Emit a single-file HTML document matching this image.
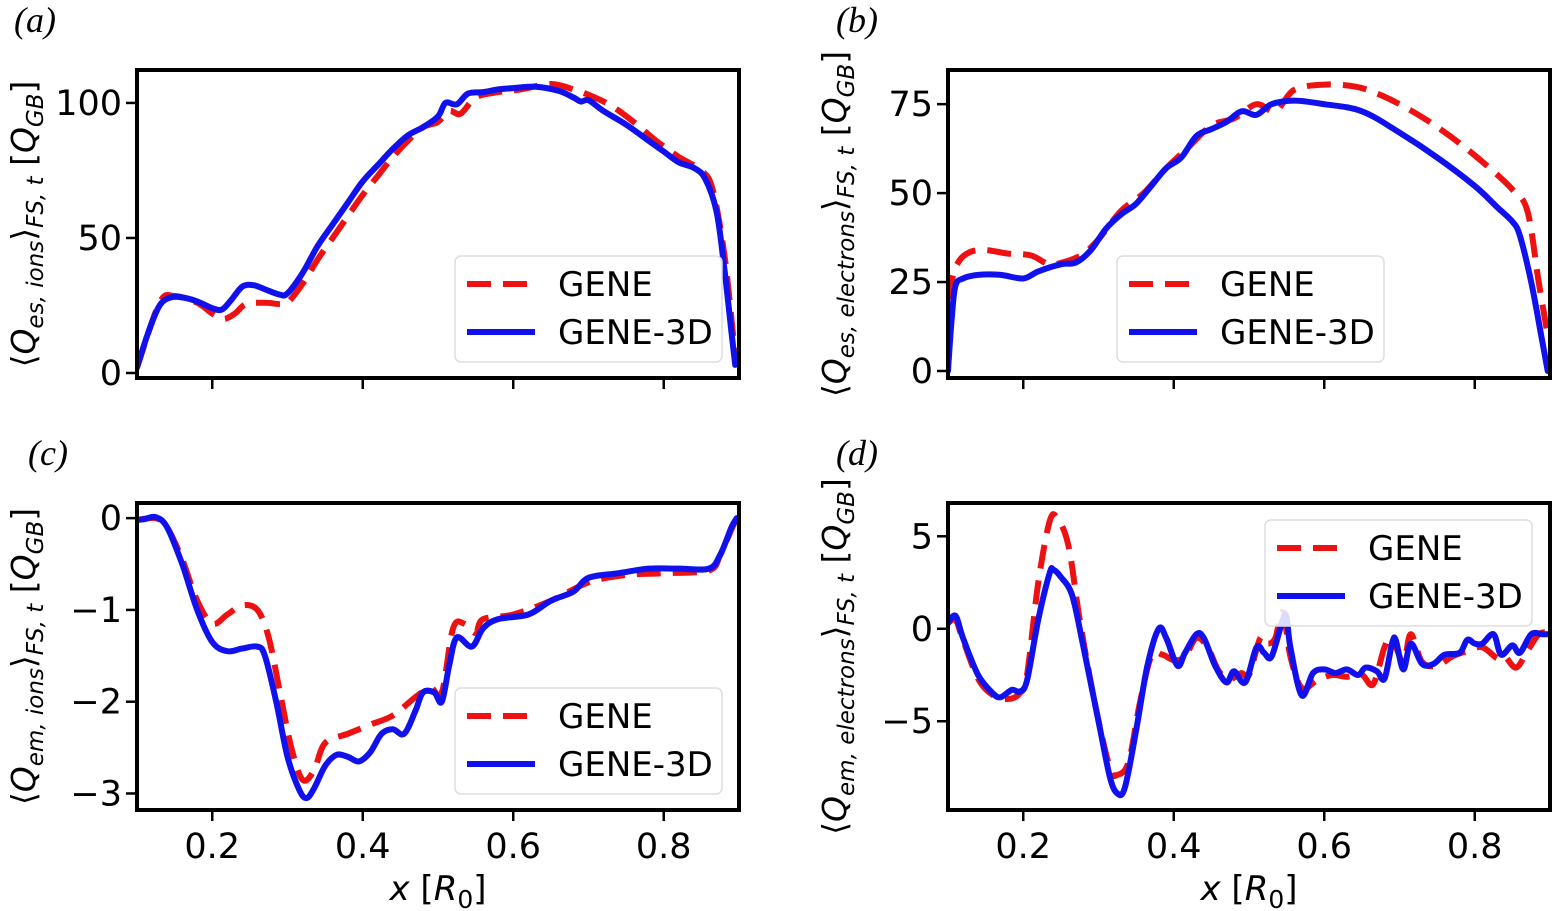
<!DOCTYPE html>
<html><head><meta charset="utf-8"><style>
html,body{margin:0;padding:0;background:#fff;}
svg{display:block;}
.tick{font-family:"DejaVu Sans","Liberation Sans",sans-serif;font-size:35px;fill:#000;}
.lab{font-family:"DejaVu Sans","Liberation Sans",sans-serif;font-size:34px;fill:#000;}
.ylab{font-family:"DejaVu Sans","Liberation Sans",sans-serif;font-size:33px;fill:#000;}
.pl{font-family:"Liberation Serif",serif;font-style:italic;font-size:36px;}
</style></head><body>
<svg id="fig" width="1555" height="911" viewBox="0 0 1555 911" xmlns="http://www.w3.org/2000/svg"></svg>
<script>
// Panel (a) data
const aBlueX=[0.10,0.115,0.13,0.145,0.16,0.18,0.20,0.213,0.225,0.24,0.255,0.27,0.29,0.30,0.32,0.34,0.36,0.38,0.40,0.42,0.44,0.46,0.48,0.50,0.51,0.525,0.54,0.56,0.58,0.60,0.63,0.66,0.68,0.69,0.70,0.72,0.75,0.78,0.80,0.82,0.84,0.855,0.87,0.88,0.89,0.895];
const aBlueY=[2,15,25,28,28,26.5,24,23.5,27,32,32.5,31,29,29.5,37,47,55,63,71,77,83,88,91,95,100,99.5,103.5,104,105,105.5,106,104.5,102,100.5,101,97,92,86,82,78,76,72,60,40,15,3];
const aRedX=[0.10,0.13,0.15,0.18,0.20,0.215,0.23,0.245,0.27,0.29,0.30,0.32,0.34,0.36,0.38,0.40,0.42,0.44,0.46,0.48,0.50,0.515,0.53,0.55,0.58,0.61,0.65,0.68,0.70,0.73,0.76,0.79,0.82,0.85,0.865,0.88,0.89,0.895];
const aRedY=[2,26,28.5,26,22,20,22,25.5,26,25.5,26,33,42,50,58,66,73,80,86,91,93,97,96,102,104,105,107,105,103,99,93,86,80,75,68,45,20,5];
// Panel (b) data
const bBlueX=[0.10,0.105,0.11,0.12,0.14,0.17,0.20,0.22,0.25,0.27,0.29,0.31,0.33,0.35,0.37,0.39,0.41,0.43,0.45,0.47,0.49,0.51,0.53,0.56,0.60,0.65,0.70,0.75,0.80,0.83,0.85,0.86,0.875,0.89,0.897];
const bBlueY=[0,15,24,26,27,27,26,28,30,30.5,34,40,44,47,52,57,60,66,68,70,73,72,75,76,75,73,67,60,52,46,42,38,25,8,0];
const bRedX=[0.10,0.105,0.115,0.13,0.15,0.18,0.21,0.235,0.26,0.28,0.30,0.33,0.36,0.39,0.42,0.45,0.48,0.51,0.535,0.56,0.60,0.64,0.67,0.70,0.74,0.78,0.82,0.85,0.87,0.885,0.897];
const bRedY=[10,25,31,33.5,34,33,32.5,30,31,33,37,45,50,57,63,69,71,75,73,79,80.5,80,78,75,70,64,57,51,45,25,10];
// Panel (c) data
const cBlueX=[0.10,0.11,0.125,0.14,0.16,0.18,0.20,0.22,0.24,0.26,0.27,0.285,0.30,0.315,0.325,0.335,0.35,0.365,0.38,0.395,0.41,0.425,0.44,0.455,0.47,0.48,0.495,0.505,0.515,0.525,0.545,0.56,0.58,0.62,0.65,0.68,0.70,0.74,0.78,0.82,0.86,0.875,0.89,0.897];
const cBlueY=[-0.02,-0.01,0.01,-0.1,-0.5,-1.0,-1.35,-1.45,-1.42,-1.4,-1.5,-2.0,-2.6,-2.95,-3.05,-2.95,-2.7,-2.58,-2.6,-2.65,-2.55,-2.35,-2.3,-2.35,-2.1,-1.9,-1.9,-2.0,-1.6,-1.3,-1.4,-1.2,-1.1,-1.05,-0.9,-0.8,-0.65,-0.6,-0.55,-0.55,-0.55,-0.4,-0.1,0];
const cRedX=[0.10,0.125,0.14,0.16,0.18,0.20,0.22,0.24,0.26,0.275,0.29,0.305,0.32,0.335,0.35,0.38,0.41,0.44,0.47,0.49,0.505,0.52,0.535,0.55,0.56,0.60,0.65,0.70,0.75,0.80,0.86,0.875,0.89,0.897];
const cRedY=[-0.02,0,-0.1,-0.45,-0.9,-1.15,-1.05,-0.95,-1.0,-1.3,-1.9,-2.5,-2.85,-2.75,-2.45,-2.35,-2.25,-2.15,-1.95,-1.85,-1.9,-1.2,-1.15,-1.25,-1.1,-1.05,-0.9,-0.7,-0.62,-0.6,-0.57,-0.4,-0.12,0];
// Panel (d) data
const dBlueX=[0.10,0.11,0.12,0.14,0.16,0.17,0.185,0.195,0.205,0.22,0.235,0.24,0.25,0.265,0.28,0.30,0.315,0.325,0.335,0.35,0.365,0.38,0.39,0.405,0.415,0.43,0.44,0.455,0.47,0.48,0.495,0.51,0.52,0.53,0.545,0.55,0.555,0.57,0.585,0.60,0.615,0.63,0.645,0.655,0.67,0.68,0.69,0.695,0.705,0.715,0.73,0.745,0.76,0.78,0.79,0.80,0.81,0.825,0.835,0.85,0.86,0.875,0.89,0.897];
const dBlueY=[0.3,0.7,-0.5,-2.5,-3.5,-3.7,-3.3,-3.4,-2.8,0.5,3.0,3.2,2.8,1.8,-1,-5,-8,-8.9,-8.6,-5.5,-2,0,-0.5,-2,-1.3,-0.3,-0.5,-2,-2.9,-2.3,-2.9,-1,-1.3,-1.5,0.5,0.6,-1,-3.6,-2.4,-2.2,-2.4,-2.2,-2.5,-2.1,-2.3,-2.7,-0.8,-0.6,-2.2,-0.8,-1.9,-1.9,-1.4,-1.3,-0.6,-0.8,-0.8,-0.3,-1.4,-0.9,-1.3,-0.3,-0.3,-0.3];
const dRedX=[0.10,0.11,0.12,0.14,0.16,0.18,0.195,0.205,0.22,0.235,0.245,0.26,0.275,0.295,0.315,0.325,0.34,0.355,0.37,0.385,0.40,0.415,0.43,0.445,0.46,0.475,0.49,0.50,0.515,0.525,0.535,0.545,0.555,0.57,0.59,0.61,0.63,0.65,0.665,0.68,0.69,0.705,0.715,0.73,0.75,0.77,0.79,0.81,0.83,0.84,0.855,0.87,0.885,0.897];
const dRedY=[0.3,0.5,-0.6,-2.7,-3.6,-3.8,-3.5,-2.5,2.5,5.8,6.0,4.5,0.5,-4,-7.5,-7.9,-7.2,-4,-1.5,-1.4,-1.7,-1.5,-0.5,-1.0,-2.3,-2.7,-2.4,-2.5,-0.5,-0.8,-0.5,0.9,-1.5,-3.2,-2.8,-2.5,-2.6,-2.5,-3.0,-1.0,-0.5,-1.8,-0.3,-1.8,-2.0,-1.5,-1.2,-1.0,-1.6,-1.5,-2.1,-1.2,-0.3,-0.2];
// Tick labels
const xTickVals=[0.2,0.4,0.6,0.8];
const xTickLabels=["0.2","0.4","0.6","0.8"];
const aYTicks=[0,50,100], bYTicks=[0,25,50,75], cYTicks=[0,-1,-2,-3], dYTicks=[5,0,-5];
const aYLabels=["0","50","100"], bYLabels=["0","25","50","75"], cYLabels=["0","\u22121","\u22122","\u22123"], dYLabels=["5","0","\u22125"];

const NS="http://www.w3.org/2000/svg";
const svg=document.getElementById('fig');
function mk(tag,attrs,parent){const e=document.createElementNS(NS,tag);for(const k in attrs)e.setAttribute(k,attrs[k]);(parent||svg).appendChild(e);return e;}
function smooth(pts){
  let d='M'+pts[0][0].toFixed(1)+','+pts[0][1].toFixed(1);
  for(let i=0;i<pts.length-1;i++){
    const p0=pts[Math.max(0,i-1)],p1=pts[i],p2=pts[i+1],p3=pts[Math.min(pts.length-1,i+2)];
    const c1=[p1[0]+(p2[0]-p0[0])/6,p1[1]+(p2[1]-p0[1])/6];
    const c2=[p2[0]-(p3[0]-p1[0])/6,p2[1]-(p3[1]-p1[1])/6];
    d+='C'+c1[0].toFixed(1)+','+c1[1].toFixed(1)+' '+c2[0].toFixed(1)+','+c2[1].toFixed(1)+' '+p2[0].toFixed(1)+','+p2[1].toFixed(1);
  }
  return d;
}

function panel(o){
  const g=mk('g',{});
  
  
  const L=o.L,R=o.R,T=o.T,B=o.B;
  const sx=v=>L+(v-0.1)/0.8*(R-L);
  const sy=v=>B-(v-o.ymin)/(o.ymax-o.ymin)*(B-T);
  const cid='clip-'+o.tag;
  const cp=mk('clipPath',{id:cid},g);
  mk('rect',{x:L,y:T,width:R-L,height:B-T},cp);
  const series=[[o.rx,o.ry,'#ee1111','24,12','gene-line'],[o.bx,o.by,'#1111ee','','gene-3d-line']];
  for(const s of series){
    const pts=s[0].map((x,i)=>[sx(x),sy(s[1][i])]);
    const p=mk('path',{d:smooth(pts),fill:'none',stroke:s[2],'stroke-width':6,'stroke-linejoin':'round','stroke-linecap':s[3]?'butt':'round','clip-path':`url(#${cid})`},g);
    if(s[3])p.setAttribute('stroke-dasharray',s[3]);
    
    
  }
  const fr=mk('rect',{x:L,y:T,width:R-L,height:B-T,fill:'none',stroke:'#000','stroke-width':4},g);
  
  
  xTickVals.forEach((v,i)=>{
    mk('line',{x1:sx(v),x2:sx(v),y1:B,y2:B+11,stroke:'#000','stroke-width':2.5},g);
    if(o.xlabels){const t=mk('text',{x:sx(v),y:B+48,'text-anchor':'middle',class:'tick'},g);t.textContent=xTickLabels[i];
      }
  });
  o.yt.forEach((v,i)=>{
    mk('line',{x1:L-11,x2:L,y1:sy(v),y2:sy(v),stroke:'#000','stroke-width':2.5},g);
    const t=mk('text',{x:L-15,y:sy(v)+12,'text-anchor':'end',class:'tick'},g);t.textContent=o.yl[i];
    
  });
  const lg=mk('g',{},g);
  
  
  mk('rect',{x:o.lx,y:o.ly,width:267,height:106,rx:6,fill:'#fff','fill-opacity':0.85,stroke:'#dddddd','stroke-width':1.5},lg);
  mk('line',{x1:o.lx+12,x2:o.lx+80,y1:o.ly+28,y2:o.ly+28,stroke:'#ee1111','stroke-width':6,'stroke-dasharray':'24,12'},lg);
  mk('line',{x1:o.lx+12,x2:o.lx+80,y1:o.ly+76,y2:o.ly+76,stroke:'#1111ee','stroke-width':6},lg);
  const t1=mk('text',{x:o.lx+103,y:o.ly+40,class:'lab'},lg);t1.textContent='GENE';
  
  const t2=mk('text',{x:o.lx+103,y:o.ly+88,class:'lab'},lg);t2.textContent='GENE-3D';
  
  const cy=(T+B)/2;
  const yl=mk('text',{transform:`translate(${L-102},${cy}) rotate(-90)`,'text-anchor':'middle',class:'ylab'},g);
  
  
  yl.innerHTML=`⟨<tspan font-style="italic">Q</tspan><tspan font-size="23" dy="8" font-style="italic">${o.sub}</tspan><tspan dy="-8">⟩</tspan><tspan font-size="23" dy="8" font-style="italic">FS, t</tspan><tspan dy="-8"> [</tspan><tspan font-style="italic">Q</tspan><tspan font-size="23" dy="8" font-style="italic">GB</tspan><tspan dy="-8">]</tspan>`;
  if(o.xlabels){
    const xl=mk('text',{x:(L+R)/2,y:B+90,'text-anchor':'middle',class:'lab','font-size':38},g);
    
    
    xl.innerHTML='<tspan font-style="italic">x</tspan> [<tspan font-style="italic">R</tspan><tspan font-size="25" dy="8">0</tspan><tspan dy="-8">]</tspan>';
  }
  const pl=mk('text',{x:o.px,y:T-38,class:'pl'},g);
  
  
  pl.innerHTML='('+o.tag+')';
}
panel({name:'panel-a',L:137,R:739,T:70,B:378,ymin:-1.85,ymax:112.2,yt:aYTicks,yl:aYLabels,rx:aRedX,ry:aRedY,bx:aBlueX,by:aBlueY,lx:455,ly:256,xlabels:false,sub:'es, ions',tag:'a',px:14});
panel({name:'panel-b',L:948,R:1550,T:70,B:378,ymin:-1.97,ymax:84.6,yt:bYTicks,yl:bYLabels,rx:bRedX,ry:bRedY,bx:bBlueX,by:bBlueY,lx:1117,ly:256,xlabels:false,sub:'es, electrons',tag:'b',px:836});
panel({name:'panel-c',L:137,R:739,T:503,B:810,ymin:-3.18,ymax:0.165,yt:cYTicks,yl:cYLabels,rx:cRedX,ry:cRedY,bx:cBlueX,by:cBlueY,lx:455,ly:688,xlabels:true,sub:'em, ions',tag:'c',px:28});
panel({name:'panel-d',L:948,R:1550,T:503,B:810,ymin:-9.8,ymax:6.8,yt:dYTicks,yl:dYLabels,rx:dRedX,ry:dRedY,bx:dBlueX,by:dBlueY,lx:1265,ly:520,xlabels:true,sub:'em, electrons',tag:'d',px:836});
</script>
</body></html>
